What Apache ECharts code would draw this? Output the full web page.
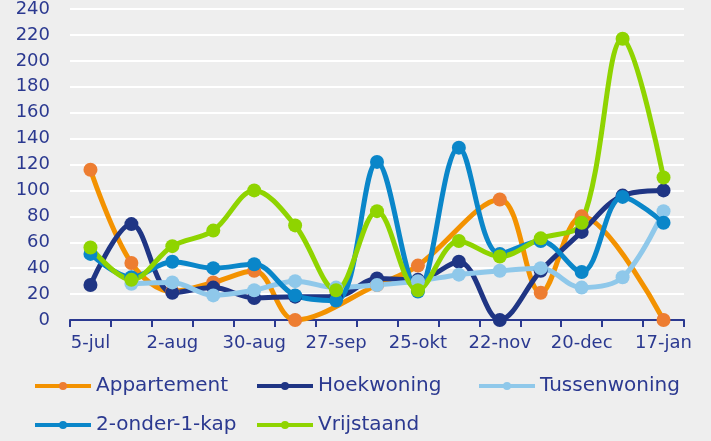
<!DOCTYPE html>
<html>
<head>
<meta charset="utf-8">
<script src="https://cdn.jsdelivr.net/npm/echarts@6/dist/echarts.min.js"></script>
<style>
  html, body { margin: 0; padding: 0; background: #eeeeee; }
  #main { width: 711px; height: 441px; }
</style>
</head>
<body>
<div id="main"></div>
<script>
var categories = ['5-jul', '19-jul', '2-aug', '16-aug', '30-aug', '13-sep', '27-sep', '11-okt',
                  '25-okt', '8-nov', '22-nov', '6-dec', '20-dec', '3-jan', '17-jan'];

var seriesNames = ['Appartement', 'Hoekwoning', 'Tussenwoning', '2-onder-1-kap', 'Vrijstaand'];

var appartement   = [116, 44, 22, 29, 38, 0, null, 27, 42, null, 93, 21, 80, null, 0];
var hoekwoning    = [27, 74, 21, 25, 17, 18, 18, 32, 31, 45, 0, 38, 68, 96, 100];
var tussenwoning  = [null, 28, 29, 19, 23, 30, 25, 27, 30, 35, 38, 40, 25, 33, 84];
var onder1kap     = [51, 33, 45, 40, 43, 19, 15, 122, 22, 133, 51, 61, 37, 95, 75];
var vrijstaand    = [56, 31, 57, 69, 100, 73, 23, 84, 23, 61, 49, 63, 75, 217, 110];

var yTicks = { min: 0, max: 240, step: 20 };

var navy = '#2b3990';
var font = 'DejaVu Sans';

function line(name, data, lineColor, dotColor) {
  return {
    name: name,
    type: 'line',
    data: data,
    smooth: 0.35,
    connectNulls: true,
    symbol: 'circle',
    symbolSize: 14,
    lineStyle: { color: lineColor, width: 5 },
    itemStyle: { color: dotColor },
    emphasis: { disabled: true }
  };
}

// one legend per entry so the columns line up like the original
var legendPos = [[33, 376], [255, 376], [477, 376], [33, 415], [255, 415]];
var legends = seriesNames.map(function (n, i) {
  return {
    left: legendPos[i][0],
    top: legendPos[i][1],
    padding: 0,
    itemWidth: 56,
    itemHeight: 10,
    itemGap: 4,
    lineStyle: { width: 4 },
    textStyle: { color: navy, fontSize: 20, fontFamily: font },
    data: [n]
  };
});

var myChart = echarts.init(document.getElementById('main'), null, { renderer: 'canvas' });

var option = {
  backgroundColor: '#eeeeee',
  animation: false,
  grid: { left: 70, right: 27, top: 6, bottom: 121 },
  legend: legends,
  xAxis: {
    type: 'category',
    data: categories,
    boundaryGap: true,
    axisLine: { lineStyle: { color: navy, width: 2 } },
    axisTick: { show: true, interval: 0, length: 7, lineStyle: { color: navy, width: 2 } },
    axisLabel: { interval: 1, color: navy, fontSize: 18, fontFamily: font, margin: 14 },
    splitLine: { show: false }
  },
  yAxis: {
    type: 'value',
    min: yTicks.min,
    max: yTicks.max,
    interval: yTicks.step,
    axisLine: { show: false },
    axisTick: { show: false },
    axisLabel: { color: navy, fontSize: 18, fontFamily: font, margin: 20 },
    splitLine: { lineStyle: { color: '#ffffff', width: 2 } }
  },
  series: [
    line(seriesNames[0], appartement, '#f39200', '#ed7d31'),
    line(seriesNames[1], hoekwoning, '#1f3584', '#1f3584'),
    line(seriesNames[2], tussenwoning, '#8fc8ea', '#8fc8ea'),
    line(seriesNames[3], onder1kap, '#0a86c9', '#0a86c9'),
    line(seriesNames[4], vrijstaand, '#8fd400', '#8fd400')
  ]
};

myChart.setOption(option);
window.addEventListener('resize', myChart.resize);
</script>
</body>
</html>
